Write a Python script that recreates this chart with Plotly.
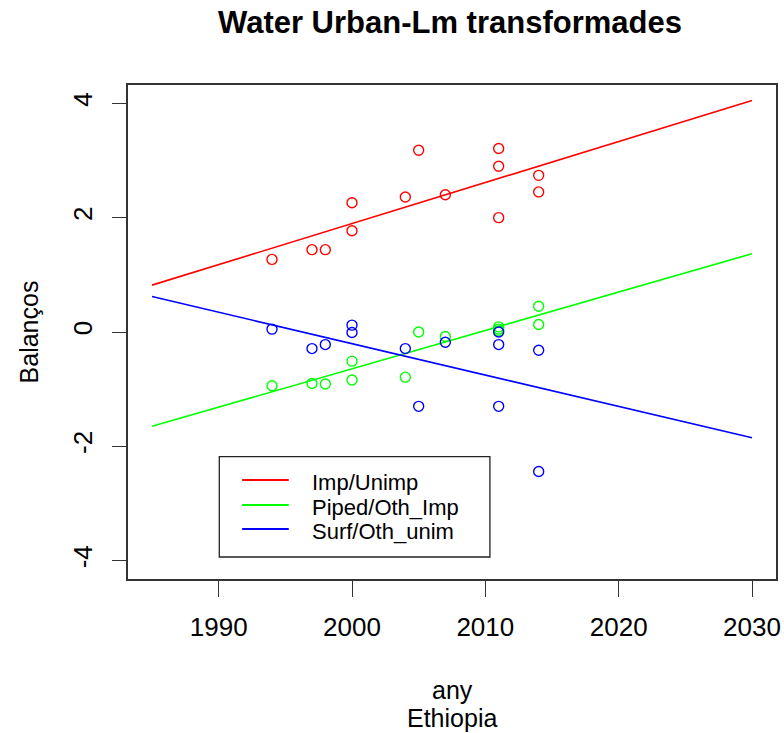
import plotly.graph_objects as go

# Survey years (one entry per observation)
years = [1994, 1997, 1998, 2000, 2000, 2004, 2005, 2007, 2011, 2011, 2011, 2014, 2014]

# Transformed balances per indicator
imp_unimp = [1.27, 1.44, 1.44, 1.77, 2.26, 2.36, 3.18, 2.40, 3.21, 2.90, 2.00, 2.74, 2.45]
piped_oth_imp = [-0.94, -0.90, -0.91, -0.51, -0.84, -0.79, 0.00, -0.08, 0.09, 0.05, 0.02, 0.45, 0.13]
surf_oth_unim = [0.05, -0.29, -0.22, 0.12, -0.01, -0.29, -1.30, -0.18, 0.00, -0.22, -1.30, -0.32, -2.44]

# Linear-model fitted lines evaluated at the ends of the projection span
fit_years = [1985, 2030]
fit_imp_unimp = [0.82, 4.05]
fit_piped_oth_imp = [-1.65, 1.37]
fit_surf_oth_unim = [0.62, -1.85]

series_names = ["Imp/Unimp", "Piped/Oth_Imp", "Surf/Oth_unim"]
series_colors = ["#FF0000", "#00FF00", "#0000FF"]
points = [imp_unimp, piped_oth_imp, surf_oth_unim]
fits = [fit_imp_unimp, fit_piped_oth_imp, fit_surf_oth_unim]

x_ticks = [1990, 2000, 2010, 2020, 2030]
y_ticks = [-4, -2, 0, 2, 4]

FONT = "Liberation Sans, Arial, sans-serif"
W, H = 784, 733
L, R, T, B = 128, 3, 85, 154
PW, PH = W - L - R, H - T - B


def px_x(px):
    return (px - L) / PW


def px_y(py):
    return (H - B - py) / PH


fig = go.Figure()

for name, color, ys, fy in zip(series_names, series_colors, points, fits):
    fig.add_trace(go.Scatter(
        x=years, y=ys, mode="markers", name=name, showlegend=False,
        marker=dict(symbol="circle-open", size=10, color=color, line=dict(width=1.4, color=color)),
    ))
    fig.add_trace(go.Scatter(
        x=fit_years, y=fy, mode="lines", name=name, showlegend=False,
        line=dict(color=color, width=1.6),
    ))

# Legend box drawn in the lower-left of the plotting region
shapes = [dict(type="rect", xref="paper", yref="paper",
               x0=px_x(220), x1=px_x(492.7), y0=px_y(557), y1=px_y(456.7),
               line=dict(color="#222222", width=1.3), fillcolor="white", layer="above")]
annotations = []
row_y = [480, 505, 529]
for name, color, ry in zip(series_names, series_colors, row_y):
    shapes.append(dict(type="line", xref="paper", yref="paper",
                       x0=px_x(243), x1=px_x(290), y0=px_y(ry), y1=px_y(ry),
                       line=dict(color=color, width=2.2), layer="above"))
    annotations.append(dict(xref="paper", yref="paper", x=px_x(311), y=px_y(ry + 2),
                            xanchor="left", yanchor="middle", showarrow=False,
                            text=name, font=dict(family=FONT, size=22, color="black")))

# Two-line x-axis caption
annotations.append(dict(xref="paper", yref="paper", x=0.5, y=px_y(690), xanchor="center",
                        yanchor="middle", showarrow=False, text="any",
                        font=dict(family=FONT, size=25, color="black")))
annotations.append(dict(xref="paper", yref="paper", x=0.5, y=px_y(718), xanchor="center",
                        yanchor="middle", showarrow=False, text="Ethiopia",
                        font=dict(family=FONT, size=25, color="black")))

fig.update_layout(
    width=W, height=H,
    margin=dict(l=L, r=R, t=T, b=B, pad=0),
    paper_bgcolor="white", plot_bgcolor="white",
    showlegend=False,
    title=dict(text="<b>Water Urban-Lm transformades</b>", x=px_x(452.5), xref="paper",
               xanchor="center", y=1 - 22 / H, yref="container", yanchor="middle",
               font=dict(family=FONT, size=31, color="black")),
    xaxis=dict(range=[1983.2, 2031.8], tickmode="array", tickvals=x_ticks,
               ticks="outside", ticklen=16, tickwidth=1.3, tickcolor="#333333",
               showline=True, mirror=True, linecolor="#333333", linewidth=1.5,
               showgrid=False, zeroline=False, ticklabelstandoff=8,
               tickfont=dict(family=FONT, size=26, color="black")),
    yaxis=dict(range=[-4.32, 4.32], tickmode="array", tickvals=y_ticks,
               ticktext=[str(v) for v in y_ticks], tickangle=-90,
               ticks="outside", ticklen=14, tickwidth=1.3, tickcolor="#333333",
               showline=True, mirror=True, linecolor="#333333", linewidth=1.5,
               showgrid=False, zeroline=False, ticklabelstandoff=10,
               tickfont=dict(family=FONT, size=26, color="black"),
               title=dict(text="Balanços", standoff=22,
                          font=dict(family=FONT, size=25, color="black"))),
    shapes=shapes,
    annotations=annotations,
)

fig.write_html("out.html")
